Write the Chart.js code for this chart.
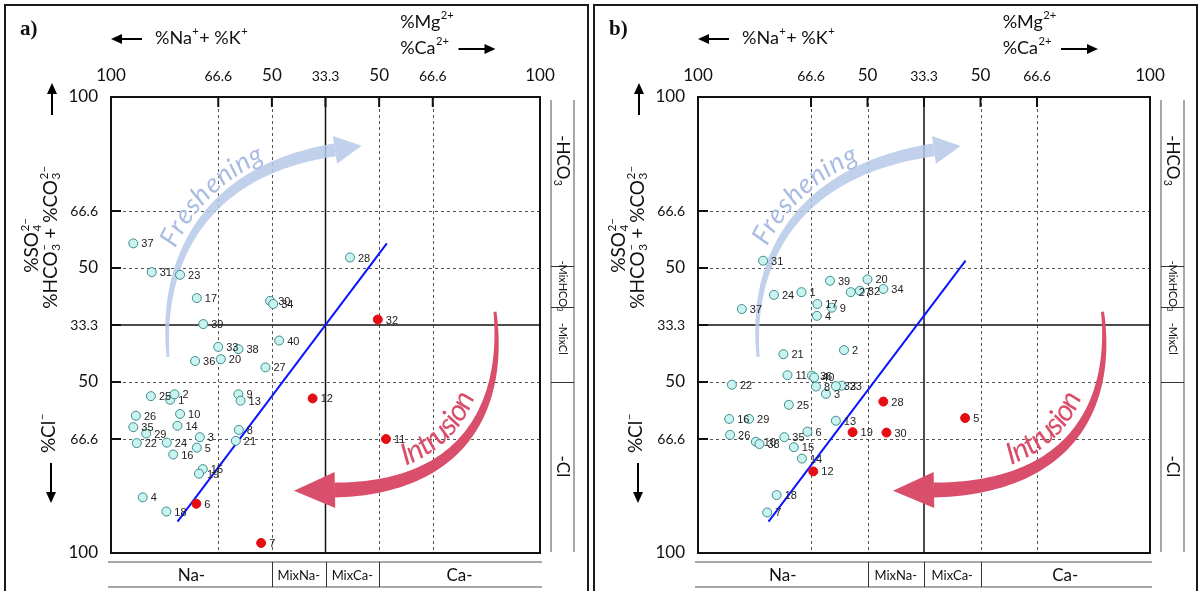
<!DOCTYPE html>
<html>
<head>
<meta charset="utf-8">
<script src="https://cdn.jsdelivr.net/npm/chart.js@4.4.1/dist/chart.umd.min.js"></script>
<style>
  body { margin: 0; background: #fff; width: 1201px; height: 591px; overflow: hidden; position: relative; }
  canvas { position: absolute; top: 0; }
</style>
</head>
<body>
<canvas id="panelA" width="591" height="591" style="left:0"></canvas>
<canvas id="panelB" width="610" height="591" style="left:591px"></canvas>
<script>
// sample numbers 1..40, positions in the diagram (0-100 across, 0-100 up)
const sampleIds = [1,2,3,4,5,6,7,8,9,10,11,12,13,14,15,16,17,18,19,20,21,22,23,24,25,26,27,28,29,30,31,32,33,34,35,36,37,38,39,40];

// panel a)
const aX = [13.8,14.8,20.7,7.4,20.0,19.9,35.0,29.8,29.7,16.1,64.1,47.0,30.2,15.5,21.4,14.5,20.0,12.9,20.5,25.6,29.1,6.0,16.1,13.0,9.3,5.8,36.0,55.7,8.2,37.1,9.5,62.2,25.0,37.8,5.2,19.6,5.2,29.7,21.5,39.2];
const aY = [33.6,34.8,25.4,12.2,23.1,10.8,2.2,27.0,34.8,30.5,25.0,33.9,33.4,27.9,18.4,21.6,55.9,9.1,17.4,42.5,24.6,24.1,61.0,24.2,34.4,30.1,40.7,64.8,26.2,55.3,61.6,51.2,45.2,54.6,27.6,42.1,67.9,44.7,50.2,46.6];
const aIntrusion = [6, 7, 11, 12, 32];
const aTrendX = [15.5, 64.3];
const aTrendY = [6.9, 67.9];

// panel b)
const bX = [22.9,32.3,28.3,26.3,59.1,24.2,15.3,26.1,29.6,12.8,19.8,25.5,30.5,23.0,21.2,6.9,26.4,17.4,34.2,37.5,18.9,7.5,31.8,16.8,20.1,7.1,33.8,41.0,11.3,41.7,14.4,35.8,30.5,41.0,19.1,25.2,9.7,13.6,29.2,25.7];
const bY = [57.2,44.5,34.9,52.0,29.6,26.6,8.9,36.5,53.8,24.4,39.0,17.9,29.0,20.7,23.2,29.4,54.6,12.7,26.5,60.0,43.6,36.9,36.7,56.6,32.5,25.9,57.2,33.2,29.4,26.4,64.1,57.5,36.6,57.9,25.4,38.9,53.5,23.9,59.7,38.5];
const bIntrusion = [5, 12, 19, 28, 30];
const bTrendX = [15.6, 59.2];
const bTrendY = [6.9, 64.1];

// axes
const topTickValues = [0, 25, 37.5, 50, 62.5, 75, 100];
const topTickLabels = ['100', '66.6', '50', '33.3', '50', '66.6', '100'];
const sideTickValues = [100, 75, 62.5, 50, 37.5, 25, 0];
const sideTickLabels = ['100', '66.6', '50', '33.3', '50', '66.6', '100'];
const dashedGrid = [25, 37.5, 62.5, 75];
const solidGrid = [50];
const cationClasses = ['Na-', 'MixNa-', 'MixCa-', 'Ca-'];
const cationEdges = [0, 37.5, 50, 62.5, 100];
const anionClasses = ['-HCO|3', '-MixHCO|3', '-MixCl', '-Cl'];
const anionEdges = [100, 63, 54, 37.5, 0];
const anionLabelAt = [86, 58.5, 47, 19];

const FONT = 'Lato, "Open Sans", sans-serif';
const NUM_FONT = '"Liberation Sans", Arial, sans-serif';

function font(size, style) { return (style || '') + ' ' + size + 'px ' + FONT; }

function partWidth(ctx, p, size) {
    if (p.t !== undefined) { ctx.font = font(size, p.style); return ctx.measureText(p.t).width; }
    ctx.font = font(size * 0.62);
    const a = p.sub ? ctx.measureText(p.sub).width : 0;
    const b = p.sup ? ctx.measureText(p.sup).width : 0;
    return Math.max(a, b) + 1;
}

function drawRich(ctx, parts, x, y, size, align) {
    const ws = parts.map(p => partWidth(ctx, p, size));
    const total = ws.reduce((s, w) => s + w, 0);
    let cx = align === 'center' ? x - total / 2 : align === 'right' ? x - total : x;
    ctx.textAlign = 'left';
    ctx.textBaseline = 'middle';
    parts.forEach((p, i) => {
        if (p.t !== undefined) {
            ctx.font = font(size, p.style);
            ctx.fillText(p.t, cx, y);
        } else {
            ctx.font = font(size * 0.62);
            if (p.sup) ctx.fillText(p.sup, cx + 0.5, y - size * 0.38);
            if (p.sub) ctx.fillText(p.sub, cx + 0.5, y + size * 0.3);
        }
        cx += ws[i];
    });
    return total;
}

function straightArrow(ctx, x1, y1, x2, y2) {
    const a = Math.atan2(y2 - y1, x2 - x1), head = 11, half = 5;
    ctx.lineWidth = 2;
    ctx.beginPath();
    ctx.moveTo(x1, y1);
    ctx.lineTo(x2 - head * 0.8 * Math.cos(a), y2 - head * 0.8 * Math.sin(a));
    ctx.stroke();
    ctx.beginPath();
    ctx.moveTo(x2, y2);
    ctx.lineTo(x2 - head * Math.cos(a) + half * Math.sin(a), y2 - head * Math.sin(a) - half * Math.cos(a));
    ctx.lineTo(x2 - head * Math.cos(a) - half * Math.sin(a), y2 - head * Math.sin(a) + half * Math.cos(a));
    ctx.closePath();
    ctx.fill();
}

function cubic(p, t) {
    const u = 1 - t;
    return {
        x: u*u*u*p[0].x + 3*u*u*t*p[1].x + 3*u*t*t*p[2].x + t*t*t*p[3].x,
        y: u*u*u*p[0].y + 3*u*u*t*p[1].y + 3*u*t*t*p[2].y + t*t*t*p[3].y
    };
}
function cubicTan(p, t) {
    const u = 1 - t;
    const dx = 3*u*u*(p[1].x-p[0].x) + 6*u*t*(p[2].x-p[1].x) + 3*t*t*(p[3].x-p[2].x);
    const dy = 3*u*u*(p[1].y-p[0].y) + 6*u*t*(p[2].y-p[1].y) + 3*t*t*(p[3].y-p[2].y);
    const l = Math.hypot(dx, dy) || 1;
    return { x: dx / l, y: dy / l };
}

// thick curved arrow, thinner at the tail
function curvedArrow(ctx, p, w0, w1, headLen, headHalf, color) {
    const n = 80, left = [], right = [];
    for (let i = 0; i <= n; i++) {
        const t = i / n, pt = cubic(p, t), d = cubicTan(p, t), w = (w0 + (w1 - w0) * t) / 2;
        left.push([pt.x - d.y * w, pt.y + d.x * w]);
        right.push([pt.x + d.y * w, pt.y - d.x * w]);
    }
    ctx.fillStyle = color;
    ctx.beginPath();
    left.forEach((q, i) => i ? ctx.lineTo(q[0], q[1]) : ctx.moveTo(q[0], q[1]));
    for (let i = right.length - 1; i >= 0; i--) ctx.lineTo(right[i][0], right[i][1]);
    ctx.closePath();
    ctx.fill();
    const e = p[3], d = cubicTan(p, 1);
    ctx.beginPath();
    ctx.moveTo(e.x + d.x * headLen, e.y + d.y * headLen);
    ctx.lineTo(e.x - d.y * headHalf, e.y + d.x * headHalf);
    ctx.lineTo(e.x + d.y * headHalf, e.y - d.x * headHalf);
    ctx.closePath();
    ctx.fill();
}

// letters laid along a cubic curve
function textOnCurve(ctx, text, p, centerT, offset, size, color) {
    const n = 300, pts = [], len = [0];
    for (let i = 0; i <= n; i++) pts.push(cubic(p, i / n));
    for (let i = 1; i <= n; i++) len.push(len[i - 1] + Math.hypot(pts[i].x - pts[i-1].x, pts[i].y - pts[i-1].y));
    ctx.font = font(size, 'italic');
    ctx.fillStyle = color;
    ctx.textAlign = 'center';
    ctx.textBaseline = 'middle';
    const total = ctx.measureText(text).width;
    let s = len[Math.round(centerT * n)] - total / 2;
    for (const ch of text) {
        const w = ctx.measureText(ch).width, sm = s + w / 2;
        let i = 0;
        while (i < n && len[i] < sm) i++;
        const t = i / n, pt = cubic(p, t), d = cubicTan(p, t);
        ctx.save();
        ctx.translate(pt.x + d.y * offset, pt.y - d.x * offset);
        ctx.rotate(Math.atan2(d.y, d.x));
        ctx.fillText(ch, 0, 0);
        ctx.restore();
        s += w;
    }
}

function panelPlugin(cfg) {
    return {
        id: 'hfed',
        beforeDatasetsDraw(chart) {
            const ctx = chart.ctx, xs = chart.scales.x, ys = chart.scales.y;
            const { left: L, right: R, top: T, bottom: B } = chart.chartArea;
            const W = R - L, H = B - T;
            const fx = f => L + f * W, fy = f => T + f * H;
            ctx.save();

            // panel frame
            ctx.strokeStyle = '#1a1a1a';
            ctx.lineWidth = 2;
            ctx.beginPath();
            ctx.moveTo(cfg.frameLeft, chart.height + 2);
            ctx.lineTo(cfg.frameLeft, 5);
            ctx.lineTo(cfg.frameRight, 5);
            ctx.lineTo(cfg.frameRight, chart.height + 2);
            ctx.stroke();

            ctx.fillStyle = '#111';
            ctx.font = 'bold 21px "Liberation Serif", serif';
            ctx.textAlign = 'left';
            ctx.textBaseline = 'middle';
            ctx.fillText(cfg.letter, cfg.frameLeft + 15, 30);

            // cation header
            ctx.strokeStyle = '#000';
            ctx.fillStyle = '#000';
            straightArrow(ctx, L + 31, 39, L, 39);
            ctx.fillStyle = '#111';
            drawRich(ctx, [{ t: '%Na' }, { sup: '+' }, { t: '+ %K' }, { sup: '+' }], L + 44, 38, 18, 'left');
            const mx = L + 0.674 * W;
            drawRich(ctx, [{ t: '%Mg' }, { sup: '2+' }], mx, 22, 18, 'left');
            const cw = drawRich(ctx, [{ t: '%Ca' }, { sup: '2+' }], mx, 48, 18, 'left');
            ctx.fillStyle = '#000';
            straightArrow(ctx, mx + cw + 9, 49, mx + cw + 46, 49);

            // top tick labels
            ctx.fillStyle = '#111';
            ctx.textAlign = 'center';
            ctx.textBaseline = 'middle';
            topTickValues.forEach((v, i) => {
                const lab = topTickLabels[i];
                ctx.font = font(lab.includes('.') ? 14 : 17);
                ctx.fillText(lab, xs.getPixelForValue(v), T - 21);
            });
            // side tick labels
            ctx.textAlign = 'right';
            sideTickValues.forEach((v, i) => {
                const lab = sideTickLabels[i];
                ctx.font = font(lab.includes('.') ? 14 : 17);
                ctx.fillText(lab, L - 13, ys.getPixelForValue(v));
            });

            // anion axis title
            ctx.fillStyle = '#111';
            ctx.save();
            ctx.translate(L - 79, T + 148);
            ctx.rotate(-Math.PI / 2);
            drawRich(ctx, [{ t: '%SO' }, { sub: '4', sup: '2–' }], 0, 0, 19, 'center');
            ctx.restore();
            ctx.save();
            ctx.translate(L - 60, T + 140);
            ctx.rotate(-Math.PI / 2);
            drawRich(ctx, [{ t: '%HCO' }, { sub: '3', sup: '–' }, { t: ' + %CO' }, { sub: '3', sup: '2–' }], 0, 0, 19, 'center');
            ctx.restore();
            ctx.save();
            ctx.translate(L - 62, T + 336);
            ctx.rotate(-Math.PI / 2);
            drawRich(ctx, [{ t: '%Cl' }, { sup: '–' }], 0, 0, 19, 'center');
            ctx.restore();
            ctx.fillStyle = '#000';
            straightArrow(ctx, L - 60, T + 366, L - 60, T + 406);
            straightArrow(ctx, L - 59, T + 18, L - 59, T - 14);

            // grid
            ctx.strokeStyle = '#555';
            ctx.lineWidth = 1;
            ctx.setLineDash([3, 3]);
            dashedGrid.forEach(v => {
                const px = Math.round(xs.getPixelForValue(v)) + 0.5;
                const py = Math.round(ys.getPixelForValue(v)) + 0.5;
                ctx.beginPath(); ctx.moveTo(px, T); ctx.lineTo(px, B); ctx.stroke();
                ctx.beginPath(); ctx.moveTo(L, py); ctx.lineTo(R, py); ctx.stroke();
            });
            ctx.setLineDash([]);
            ctx.strokeStyle = '#111';
            ctx.lineWidth = 1.5;
            solidGrid.forEach(v => {
                const px = xs.getPixelForValue(v), py = ys.getPixelForValue(v);
                ctx.beginPath(); ctx.moveTo(px, T); ctx.lineTo(px, B); ctx.stroke();
                ctx.beginPath(); ctx.moveTo(L, py); ctx.lineTo(R, py); ctx.stroke();
            });
            // inner ticks on top and left edges
            ctx.lineWidth = 2;
            dashedGrid.concat(solidGrid).forEach(v => {
                const px = xs.getPixelForValue(v), py = ys.getPixelForValue(v);
                ctx.beginPath(); ctx.moveTo(px, T); ctx.lineTo(px, T + 10); ctx.stroke();
                ctx.beginPath(); ctx.moveTo(L, py); ctx.lineTo(L + 10, py); ctx.stroke();
            });

            // cation class band (bottom)
            const by0 = B + 9, by1 = B + 34;
            ctx.strokeStyle = '#8a8a8a';
            ctx.lineWidth = 1.5;
            [by0, by1].forEach(y => { ctx.beginPath(); ctx.moveTo(L - 3, y); ctx.lineTo(R + 2, y); ctx.stroke(); });
            ctx.strokeStyle = '#333';
            ctx.lineWidth = 1;
            cationEdges.slice(1, -1).forEach(v => {
                const px = Math.round(xs.getPixelForValue(v)) + 0.5;
                ctx.beginPath(); ctx.moveTo(px, by0); ctx.lineTo(px, by1); ctx.stroke();
            });
            ctx.fillStyle = '#111';
            cationClasses.forEach((c, i) => {
                const cx = (xs.getPixelForValue(cationEdges[i]) + xs.getPixelForValue(cationEdges[i + 1])) / 2;
                drawRich(ctx, [{ t: c }], cx, (by0 + by1) / 2 + 1, c.startsWith('Mix') ? 13 : 17, 'center');
            });

            // anion class band (right)
            const bx0 = R + 11, bx1 = R + 34;
            ctx.strokeStyle = '#8a8a8a';
            ctx.lineWidth = 1.5;
            [bx0, bx1].forEach(x => { ctx.beginPath(); ctx.moveTo(x, T + 3); ctx.lineTo(x, B - 1); ctx.stroke(); });
            ctx.strokeStyle = '#333';
            ctx.lineWidth = 1;
            anionEdges.slice(1, -1).forEach(v => {
                const py = Math.round(ys.getPixelForValue(v)) + 0.5;
                ctx.beginPath(); ctx.moveTo(bx0, py); ctx.lineTo(bx1, py); ctx.stroke();
            });
            ctx.fillStyle = '#111';
            anionClasses.forEach((c, i) => {
                const [main, sub] = c.split('|');
                const parts = sub ? [{ t: main }, { sub: sub }] : [{ t: main }];
                ctx.save();
                ctx.translate((bx0 + bx1) / 2, ys.getPixelForValue(anionLabelAt[i]));
                ctx.rotate(Math.PI / 2);
                drawRich(ctx, parts, 0, 0, c.includes('Mix') ? 11 : 17, 'center');
                ctx.restore();
            });

            // process arrows
            const fresh = [
                { x: fx(0.133), y: fy(0.570) }, { x: fx(0.114), y: fy(0.357) },
                { x: fx(0.219), y: fy(0.160) }, { x: fx(0.522), y: fy(0.116) }
            ];
            curvedArrow(ctx, fresh, 3, 13, 27, 14, 'rgba(183,201,232,0.85)');
            textOnCurve(ctx, 'Freshening', fresh, 0.6, 18, 27, '#a9bde2');

            const intr = [
                { x: fx(0.895), y: fy(0.471) }, { x: fx(0.918), y: fy(0.664) },
                { x: fx(0.837), y: fy(0.857) }, { x: fx(0.522), y: fy(0.862) }
            ];
            curvedArrow(ctx, intr, 3, 15, 41, 18, '#d94f6b');
            textOnCurve(ctx, 'Intrusion', intr.slice().reverse(), 0.42, 22, 30, '#d94f6b');

            ctx.restore();
        },
        afterDatasetsDraw(chart) {
            const ctx = chart.ctx;
            const { left: L, right: R, top: T, bottom: B } = chart.chartArea;
            ctx.save();
            // sample numbers
            ctx.font = '11px ' + NUM_FONT;
            ctx.fillStyle = '#222';
            ctx.textAlign = 'left';
            ctx.textBaseline = 'middle';
            chart.data.datasets.forEach((ds, di) => {
                if (!ds.numbered) return;
                chart.getDatasetMeta(di).data.forEach((el, i) => {
                    ctx.fillText(String(ds.data[i].id), el.x + 8, el.y + 1);
                });
            });
            // plot frame
            ctx.strokeStyle = '#111';
            ctx.lineWidth = 2;
            ctx.strokeRect(L, T, R - L, B - T);
            ctx.restore();
        }
    };
}

function buildPanel(cfg) {
    const pts = sampleIds.map((id, i) => ({ x: cfg.x[i], y: cfg.y[i], id: id }));
    const freshPts = pts.filter(p => !cfg.intrusion.includes(p.id));
    const intrusionPts = pts.filter(p => cfg.intrusion.includes(p.id));
    const trend = cfg.trendX.map((x, i) => ({ x: x, y: cfg.trendY[i] }));

    return new Chart(document.getElementById(cfg.canvas), {
        type: 'scatter',
        data: {
            datasets: [
                {
                    label: 'Fresh water',
                    data: freshPts,
                    numbered: true,
                    backgroundColor: '#c9f3f1',
                    borderColor: '#3d8c8a',
                    borderWidth: 1,
                    pointRadius: 4.5,
                    order: 1
                },
                {
                    label: 'Seawater intrusion',
                    data: intrusionPts,
                    numbered: true,
                    backgroundColor: '#e50d14',
                    borderColor: '#e50d14',
                    borderWidth: 1,
                    pointRadius: 4.5,
                    order: 1
                },
                {
                    label: 'Trend',
                    type: 'line',
                    data: trend,
                    borderColor: '#0a14ff',
                    borderWidth: 2,
                    pointRadius: 0,
                    fill: false,
                    order: 2
                }
            ]
        },
        options: {
            responsive: false,
            animation: false,
            devicePixelRatio: 1,
            layout: { padding: cfg.padding },
            scales: {
                x: { type: 'linear', min: 0, max: 100, display: false },
                y: { type: 'linear', min: 0, max: 100, display: false }
            },
            plugins: {
                legend: { display: false },
                tooltip: { enabled: false }
            }
        },
        plugins: [panelPlugin(cfg)]
    });
}

buildPanel({
    canvas: 'panelA', letter: 'a)',
    x: aX, y: aY, intrusion: aIntrusion, trendX: aTrendX, trendY: aTrendY,
    padding: { left: 111, top: 97, right: 51, bottom: 38 },
    frameLeft: 5, frameRight: 588
});
buildPanel({
    canvas: 'panelB', letter: 'b)',
    x: bX, y: bY, intrusion: bIntrusion, trendX: bTrendX, trendY: bTrendY,
    padding: { left: 107, top: 97, right: 51, bottom: 38 },
    frameLeft: 3, frameRight: 606
});
</script>
</body>
</html>
